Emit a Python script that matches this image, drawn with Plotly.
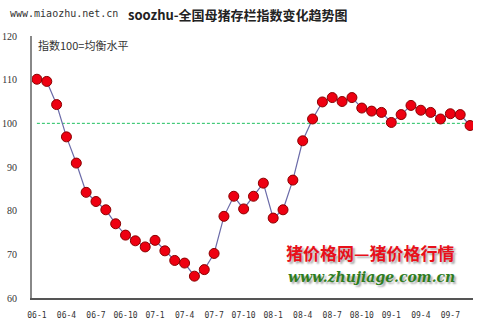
import plotly.graph_objects as go

# Monthly data, 2006-01 .. 2009-09
months = [f"{y % 100:02d}-{m}" for y in range(2006, 2010) for m in range(1, 13)][:45]
values = [110.1, 109.6, 104.3, 96.9, 90.9, 84.2, 82.1, 80.2, 77.0, 74.4,
          73.1, 71.7, 73.2, 70.8, 68.6, 68.0, 65.0, 66.5, 70.2, 78.7,
          83.3, 80.4, 83.3, 86.3, 78.3, 80.2, 87.0, 96.0, 101.0, 104.9,
          105.9, 105.0, 105.9, 103.5, 102.8, 102.5, 100.2, 102.0, 104.1, 103.0,
          102.5, 101.0, 102.2, 102.0, 99.5]
tick_labels = ["06-1", "06-4", "06-7", "06-10", "07-1", "07-4", "07-7", "07-10",
               "08-1", "08-4", "08-7", "08-10", "09-1", "09-4", "09-7"]
y_ticks = [60, 70, 80, 90, 100, 110, 120]
balance_level = 100

title_text = "soozhu-全国母猪存栏指数变化趋势图"
note_text = "指数100=均衡水平"
source_text = "www.miaozhu.net.cn"
wm_cn = "猪价格网—猪价格行情"
wm_url = "www.zhujiage.com.cn"

xi = list(range(len(values)))
tick_pos = [months.index(t) for t in tick_labels]
x_range = [-0.5, 44.3]

fig = go.Figure()
fig.add_trace(go.Scatter(
    x=[0, x_range[1]], y=[balance_level, balance_level], mode="lines",
    line=dict(color="#1fc060", width=1, dash="3px,2px"),
    hoverinfo="skip", showlegend=False,
))
fig.add_trace(go.Scatter(
    x=xi, y=values, mode="lines+markers",
    line=dict(color="#6a6aa8", width=1.2),
    marker=dict(size=10, color="#ee0011", line=dict(color="#8a0000", width=1)),
    hoverinfo="skip", showlegend=False,
))

fig.update_layout(
    width=480, height=320,
    margin=dict(l=32, r=7, t=36, b=22, autoexpand=False),
    paper_bgcolor="white", plot_bgcolor="white",
    font=dict(family="DejaVu Sans", size=10, color="#333333"),
    xaxis=dict(range=x_range, tickmode="array", tickvals=tick_pos, ticktext=tick_labels,
               showgrid=False, zeroline=False, showline=True, linecolor="#555555",
               linewidth=1.5, ticks="", ticklabelstandoff=9, automargin=False,
               tickfont=dict(family="DejaVu Sans Mono", size=8, color="#333333")),
    yaxis=dict(range=[60, 120], tickmode="array", tickvals=y_ticks,
               showgrid=False, zeroline=False, showline=True, linecolor="#888888",
               linewidth=2, ticks="", ticklabelstandoff=11, automargin=False,
               tickfont=dict(family="Liberation Serif", size=10, color="#333333")),
    annotations=[
        dict(text="<b>" + title_text + "</b>", xref="paper", yref="paper",
             x=(238 - 32) / 441, y=1 + (36 - 15) / 262, xanchor="center", yanchor="middle",
             showarrow=False, font=dict(family="Noto Sans CJK SC", size=13, color="#222222")),
        dict(text=source_text, xref="paper", yref="paper",
             x=-24 / 441, y=1 + (36 - 13) / 262, xanchor="left", yanchor="middle",
             showarrow=False, font=dict(family="DejaVu Sans Mono", size=10, color="#333333")),
        dict(text=note_text, xref="paper", yref="paper",
             x=4 / 441, y=1 - (45 - 36) / 262, xanchor="left", yanchor="middle",
             showarrow=False, font=dict(family="Noto Sans CJK SC", size=11, color="#333333")),
        dict(text="<b>" + wm_cn + "</b>", xref="paper", yref="paper",
             x=(370 - 32) / 441, y=1 - (252 - 36) / 262, xanchor="center", yanchor="middle",
             showarrow=False, font=dict(family="Noto Sans CJK SC", size=17, color="#e8101a",
                                        shadow="2px 2px 2px #aaaaaa")),
        dict(text="<b><i>" + wm_url + "</i></b>", xref="paper", yref="paper",
             x=(371 - 32) / 441, y=1 - (277 - 36) / 262, xanchor="center", yanchor="middle",
             showarrow=False, font=dict(family="DejaVu Serif", size=14, color="#2e7d1e",
                                        shadow="2px 2px 2px #aaaaaa")),
    ],
)

fig.write_html("out.html")
